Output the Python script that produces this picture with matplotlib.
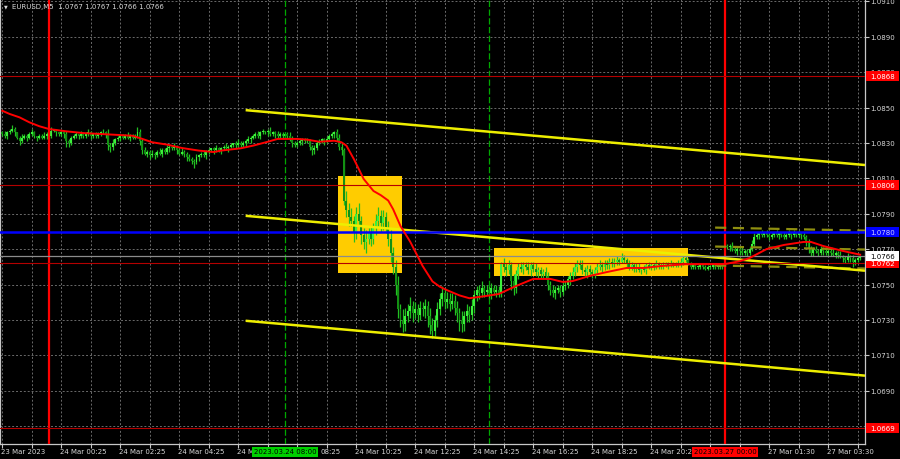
import matplotlib
matplotlib.use("Agg")
import matplotlib.pyplot as plt
from matplotlib.patches import Rectangle

# ---------------- data (prices in pips above BASE) ----------------
BASE = 1.0700
PIP = 0.0001

open0 = 136
closes = [
    135, 134, 136, 137, 138, 136, 133, 131, 133, 134,
    133, 135, 136, 134, 133, 134, 133, 134, 135, 134,
    137, 137, 136, 135, 136, 135, 131, 130, 133, 134,
    135, 134, 135, 134, 135, 136, 134, 135, 134, 135,
    136, 136, 135, 129, 128, 130, 132, 133, 134, 133,
    134, 133, 134, 133, 134, 136, 131, 126, 124, 125,
    123, 124, 123, 125, 124, 126, 125, 127, 128, 127,
    128, 126, 124, 125, 124, 122, 121, 120, 119, 122,
    123, 124, 123, 125, 126, 127, 126, 127, 126, 127,
    128, 127, 128, 129, 130, 129, 130, 129, 130, 131,
    132, 133, 134, 135, 134, 136, 137, 136, 137, 135,
    136, 135, 134, 135, 134, 135, 134, 133, 130, 129,
    130, 131, 132, 131, 131, 128, 126, 127, 130, 131,
    132, 131, 132, 134, 135, 136, 133, 128, 126, 97,
    92, 88, 86, 80, 90, 86, 78, 74, 76, 79,
    76, 82, 86, 89, 85, 88, 82, 76, 68, 60,
    50, 36, 30, 28, 32, 35, 38, 34, 36, 33,
    37, 36, 38, 32, 27, 24, 30, 36, 42, 45,
    40, 42, 39, 41, 37, 34, 30, 28, 32, 35,
    33, 38, 44, 47, 45, 48, 46, 47, 45, 48,
    46, 47, 45, 62, 60, 58, 61, 52, 48, 56,
    60, 59, 61, 60, 58, 61, 59, 57, 58, 56,
    57, 55, 50, 47, 45, 47, 48, 46, 49, 50,
    53, 55, 57, 60, 62, 61, 58, 57, 59, 57,
    56, 58, 60, 61, 60, 62, 61, 63, 62, 63,
    64, 63, 65, 64, 62, 60, 61, 59, 60, 58,
    59, 58, 61, 60, 61, 60, 62, 61, 60, 61,
    62, 61, 62, 61, 62, 61, 63, 65, 64, 62,
    60, 61, 60, 60, 61, 60, 59, 60, 60, 61,
    60, 60, 61, 60, 72, 71, 72, 70, 69, 70,
    69, 68, 69, 68, 70, 73, 77, 78, 79, 78,
    79, 78, 77, 78, 79, 78, 79, 78, 77, 78,
    79, 78, 79, 78, 79, 78, 77, 74, 70, 68,
    70, 69, 68, 70, 69, 68, 69, 68, 67, 68,
    67, 66, 65, 64, 66, 65, 63, 64, 65, 66,
]
gap_opens = {294: 73}

wick_up = [
    1, 2, 1, 1, 2, 1, 0, 1, 2, 1,
    1, 1, 2, 1, 0, 1, 1, 2, 1, 1,
    2, 1, 1, 0, 1, 1, 2, 1, 1, 1,
    1, 0, 2, 1, 1, 2, 1, 0, 1, 1,
    1, 2, 1, 3, 1, 2, 1, 1, 0, 1,
    1, 2, 1, 1, 1, 3, 2, 1, 2, 1,
    1, 2, 1, 1, 2, 1, 1, 2, 1, 1,
    2, 1, 1, 2, 1, 1, 2, 1, 1, 2,
    1, 1, 2, 1, 1, 0, 1, 2, 1, 1,
    1, 2, 1, 1, 0, 1, 2, 1, 1, 1,
    2, 1, 1, 1, 2, 1, 1, 0, 1, 2,
    1, 1, 2, 1, 1, 0, 1, 2, 1, 1,
    1, 2, 1, 1, 2, 1, 1, 2, 1, 1,
    1, 1, 2, 1, 1, 1, 2, 2, 2, 1,
    6, 4, 5, 3, 4, 6, 3, 4, 5, 3,
    4, 3, 4, 5, 3, 4, 3, 4, 5, 3,
    4, 5, 3, 6, 5, 4, 5, 3, 4, 3,
    4, 3, 4, 3, 5, 4, 3, 4, 3, 4,
    3, 4, 3, 4, 3, 4, 3, 5, 3, 4,
    3, 4, 3, 2, 3, 4, 2, 3, 2, 3,
    2, 3, 2, 1, 3, 2, 3, 2, 4, 2,
    2, 3, 2, 2, 3, 2, 2, 3, 2, 2,
    2, 3, 2, 2, 3, 2, 2, 2, 3, 2,
    2, 2, 3, 2, 2, 2, 3, 2, 2, 2,
    2, 2, 2, 3, 2, 2, 2, 2, 2, 2,
    2, 1, 3, 2, 1, 2, 2, 1, 2, 2,
    1, 2, 1, 2, 1, 1, 2, 1, 1, 2,
    1, 1, 2, 1, 1, 2, 2, 1, 1, 1,
    1, 1, 1, 1, 1, 1, 1, 1, 1, 1,
    1, 1, 1, 1, 2, 1, 1, 2, 1, 1,
    1, 2, 1, 1, 1, 2, 2, 2, 1, 2,
    1, 2, 1, 2, 1, 2, 1, 1, 2, 1,
    2, 1, 2, 1, 2, 1, 2, 1, 2, 2,
    1, 2, 1, 2, 1, 2, 1, 1, 2, 1,
    1, 2, 1, 1, 2, 1, 2, 1, 1, 0,
]
wick_dn = [
    1, 1, 2, 1, 1, 2, 1, 2, 1, 1,
    2, 1, 1, 1, 2, 1, 1, 1, 2, 1,
    1, 1, 2, 1, 1, 2, 3, 2, 1, 1,
    1, 2, 1, 1, 1, 1, 2, 1, 1, 1,
    1, 1, 2, 3, 3, 2, 1, 1, 2, 1,
    1, 1, 2, 1, 1, 1, 2, 2, 1, 2,
    2, 1, 2, 1, 1, 2, 1, 1, 2, 1,
    1, 2, 1, 1, 2, 2, 1, 2, 3, 1,
    2, 1, 1, 2, 1, 1, 2, 1, 1, 2,
    1, 1, 2, 1, 1, 2, 1, 1, 1, 2,
    1, 2, 1, 1, 1, 2, 1, 1, 2, 1,
    1, 2, 1, 1, 2, 1, 1, 2, 2, 1,
    1, 1, 2, 1, 1, 2, 3, 2, 1, 1,
    1, 2, 1, 1, 1, 2, 2, 2, 3, 2,
    4, 5, 3, 6, 4, 3, 5, 4, 6, 3,
    4, 3, 4, 3, 5, 4, 3, 4, 5, 4,
    6, 5, 4, 5, 4, 3, 4, 5, 3, 4,
    3, 4, 5, 6, 5, 4, 3, 4, 3, 4,
    4, 3, 4, 3, 4, 5, 6, 5, 4, 3,
    4, 3, 4, 3, 3, 2, 3, 2, 3, 3,
    2, 3, 2, 2, 3, 3, 2, 5, 4, 3,
    3, 2, 3, 2, 2, 3, 2, 2, 3, 2,
    3, 2, 3, 3, 2, 3, 2, 3, 2, 2,
    2, 3, 2, 2, 3, 2, 2, 2, 3, 2,
    2, 2, 2, 2, 3, 2, 2, 2, 2, 2,
    2, 2, 1, 2, 2, 2, 2, 2, 2, 1,
    2, 1, 2, 1, 2, 2, 1, 2, 1, 1,
    1, 2, 1, 1, 1, 1, 1, 2, 1, 1,
    1, 1, 1, 1, 1, 1, 1, 1, 1, 1,
    1, 1, 1, 1, 1, 1, 2, 1, 1, 2,
    2, 1, 1, 2, 1, 1, 1, 1, 2, 1,
    1, 1, 2, 1, 1, 1, 2, 1, 1, 1,
    1, 2, 1, 1, 1, 2, 1, 2, 2, 2,
    2, 1, 2, 1, 2, 1, 2, 2, 1, 2,
    2, 1, 2, 2, 1, 2, 3, 2, 1, 1,
]

ma_bars = [0, 3, 7, 11, 15, 19, 26, 33, 40, 53, 57, 61, 67, 73, 80, 86, 89, 97,
           102, 108, 112, 120, 124, 129, 135, 138, 140, 143, 147, 151, 154, 157,
           159, 162, 166, 171, 175, 178, 181, 186, 190, 197, 202, 209, 216, 223,
           228, 232, 239, 246, 254, 261, 268, 278, 294, 300, 304, 311, 318, 326,
           329, 334, 342, 349]
ma_pips = [148.2, 146.4, 144.5, 141.7, 139.5, 137.9, 136.6, 135.6, 135.1, 134.1,
           132.3, 130.4, 129.1, 127.2, 125.7, 124.9, 125.7, 127.0, 128.5, 130.7,
           132.3, 132.3, 131.9, 130.7, 131.3, 130.4, 128.5, 121.0, 109.7, 102.9,
           100.5, 97.5, 92.6, 83.1, 74.1, 60.5, 51.8, 48.8, 46.8, 43.9,
           42.3, 43.6, 44.7, 49.2, 53.2, 53.2, 51.5, 52.0, 54.9, 57.1,
           59.4, 59.4, 60.5, 61.5, 61.6, 63.2, 65.0, 70.1, 72.4, 74.1,
           74.1, 71.8, 69.0, 66.9]

price_ticks = [1.0910, 1.0890, 1.0870, 1.0850, 1.0830, 1.0810, 1.0790,
               1.0770, 1.0750, 1.0730, 1.0710, 1.0690]
time_bars = [0, 24, 48, 72, 96, 120, 144, 168, 192, 216, 240, 264, 312, 336]
time_labels = ["23 Mar 2023", "24 Mar 00:25", "24 Mar 02:25", "24 Mar 04:25",
               "24 M", "08:25", "24 Mar 10:25", "24 Mar 12:25",
               "24 Mar 14:25", "24 Mar 16:25", "24 Mar 18:25", "24 Mar 20:25",
               "27 Mar 01:30", "27 Mar 03:30"]

day_bars = [19, 294]
day_labels = ["", "2023.03.27 00:00"]
signal_bars = [115, 198]
signal_labels = ["2023.03.24 08:00", ""]

red_levels = [1.0868, 1.0806, 1.0762, 1.0669]
blue_level = 1.0780
bid_level = 1.0766

channel_bars = [99, 349]
channel_top = [148.56, 117.8]
channel_mid = [88.86, 58.1]
channel_bot = [29.56, -1.2]

std_bars = [290, 351]
std_top = [82.2, 80.5]
std_mid = [71.5, 69.8]
std_bot = [60.8, 59.1]

zones = [(136.5, 162.5, 111.2, 56.6), (200.2, 279.1, 70.5, 54.6)]

header = "EURUSD,M5  1.0767 1.0767 1.0766 1.0766"

# ---------------- styling ----------------
W, H = 900, 460
AX_R, AX_B = 865, 445
FS = 5.0
TXT = "#d8d8d8"
GRID = "#6a6a6a"
UP = "#3cf03c"
DN = "#139013"
WICK = "#22c022"
GOLD = "#ffcc00"

plt.rcParams['font.family'] = ['DejaVu Sans']

def px(p):
    return BASE + p * PIP

fig = plt.figure(figsize=(W / 100, H / 100), dpi=100, facecolor="black")
ax = fig.add_axes([0, (H - AX_B) / H, AX_R / W, AX_B / H])
ax.set_facecolor("black")
N = len(closes)
ax.set_xlim(-0.94, 350.98)
ax.set_ylim(1.065994, 1.091136)

# grid
for b in range(0, N, 12):
    ax.axvline(b, color=GRID, lw=0.7, ls=(0, (2, 2)), zorder=0.5)
for p in price_ticks + [1.0670]:
    ax.axhline(p, color=GRID, lw=0.7, ls=(0, (2, 2)), zorder=0.5)

# zones
for x0, x1, ptop, pbot in zones:
    ax.add_patch(Rectangle((x0, px(pbot)), x1 - x0, px(ptop) - px(pbot),
                           facecolor=GOLD, edgecolor="none", zorder=1))

# candles
opens = []
prev = open0
for i, c in enumerate(closes):
    o = gap_opens.get(i, prev)
    opens.append(o)
    prev = c
for i in range(N):
    o, c = opens[i], closes[i]
    hi = max(o, c) + wick_up[i]
    lo = min(o, c) - wick_dn[i]
    ax.vlines(i, px(lo), px(hi), color=WICK, lw=0.9, zorder=3)
    body = max(abs(c - o), 0.4)
    ax.bar(i, body * PIP, bottom=px(min(o, c)), width=0.8,
           color=UP if c >= o else DN, linewidth=0, zorder=3.1)

# vertical lines
for b in day_bars:
    ax.axvline(b, color="#ff0000", lw=1.6, zorder=4)
for b in signal_bars:
    ax.axvline(b, color="#00a800", lw=0.9, ls=(0, (5, 2)), zorder=4)

# channel lines (rays to the right edge)
xr = ax.get_xlim()[1]
for pts in (channel_top, channel_mid, channel_bot):
    slope = (pts[1] - pts[0]) / (channel_bars[1] - channel_bars[0])
    yend = pts[0] + slope * (xr - channel_bars[0])
    ax.plot([channel_bars[0], xr], [px(pts[0]), px(yend)], color="#eeee00",
            lw=1.8, zorder=4.2, solid_capstyle="butt")

for pts in (std_top, std_mid, std_bot):
    ax.plot(std_bars, [px(v) for v in pts], color="#8f8f10", lw=1.6,
            ls=(0, (5, 3)), zorder=4.1)

# horizontal levels
for lv in red_levels:
    ax.axhline(lv, color="#b40000", lw=0.8, zorder=4.3)
ax.axhline(blue_level, color="#0000ff", lw=1.8, zorder=4.3)
ax.axhline(bid_level, color="#8c8c8c", lw=0.9, zorder=4.3)

# moving average
ax.plot(ma_bars, [px(v) for v in ma_pips], color="#ff0000", lw=1.4, zorder=5,
        solid_joinstyle="round")

# spines & ticks
ax.spines["top"].set_visible(False)
for s in ("right", "bottom", "left"):
    ax.spines[s].set_color("#c8c8c8")
    ax.spines[s].set_linewidth(0.9)
ax.set_xticks(range(0, N, 12))
ax.tick_params(axis="x", length=3, width=0.8, color="#c8c8c8", labelbottom=False)
ax.yaxis.tick_right()
ax.set_yticks(price_ticks)
ax.tick_params(axis="y", length=3, width=0.8, color="#c8c8c8", labelright=False)

# right price labels
ytr = ax.get_yaxis_transform()
for p in price_ticks:
    ax.text(870 / AX_R, p, f"{p:.4f}", transform=ytr, fontsize=FS, color=TXT,
            ha="left", va="center", clip_on=False, zorder=6)

def price_tag(val, face, tc):
    yd = ax.transData.transform((0, val))[1]
    r = Rectangle((AX_R + 1, yd - 5), W - AX_R - 2, 10, transform=None,
                  facecolor=face, edgecolor="none", zorder=7)
    fig.patches.append(r)
    fig.text((AX_R + 1 + (W - AX_R - 2) / 2) / W, yd / H, f"{val:.4f}",
             fontsize=FS, color=tc, ha="center", va="center", zorder=8)

for lv in red_levels:
    price_tag(lv, "#ff0000", "#ffffff")
price_tag(blue_level, "#0000ff", "#d0d0ff")
price_tag(bid_level, "#ffffff", "#000000")

# bottom time labels (partial labels are the parts left visible by the tags)
xtr = ax.get_xaxis_transform()
ylab = -(452.5 - AX_B) / AX_B
for b, t in zip(time_bars, time_labels):
    shift = 9.5 if t == "08:25" else -0.4
    ax.text(b + shift, ylab, t, transform=xtr, fontsize=FS, color=TXT,
            ha="left", va="center", clip_on=False, zorder=6)

def time_tag(bar, label, face):
    xd = ax.transData.transform((bar, 0))[0]
    r = Rectangle((xd - 33, H - 457.5), 66, 10, transform=None,
                  facecolor=face, edgecolor="none", zorder=7)
    fig.patches.append(r)
    fig.text(xd / W, (H - 452.5) / H, label, fontsize=FS, color="#000000",
             ha="center", va="center", zorder=8)

for b, lab in zip(signal_bars, signal_labels):
    if lab:
        time_tag(b, lab, "#00d000")
for b, lab in zip(day_bars, day_labels):
    if lab:
        time_tag(b, lab, "#ff0000")

# header
fig.text(4 / W, 1 - 6.5 / H, "\u25BC", fontsize=3.5, color=TXT, ha="left", va="center")
fig.text(12.5 / W, 1 - 6.5 / H, header, fontsize=FS, color=TXT, ha="left", va="center")

fig.savefig("out.png", dpi=100, facecolor="black")
